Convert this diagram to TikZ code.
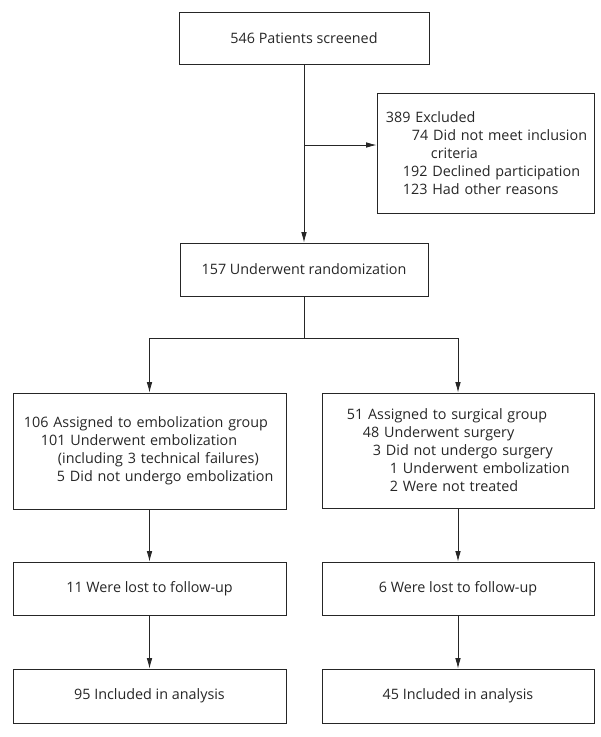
\documentclass[tikz,border=0pt]{standalone}
\usepackage{fontspec}
\setmainfont{Open Sans}
\usetikzlibrary{arrows.meta}

\newcommand{\inrow}[2]{\hspace*{#1}\mbox{#2}}

\begin{document}
\begin{tikzpicture}
   [x=0.025cm,y=-0.025cm,>={Latex[length=2.6mm,width=1.4mm]},
   color=black!85,line width=.6pt,
   every node/.style={font=\fontsize{10.2}{12.8}\selectfont},
   box/.style={draw,minimum width=6.825cm,minimum height=1.325cm,align=center},
   listbox/.style={draw,align=left,inner ysep=0pt}]

   \useasboundingbox (0,0) rectangle (600,737);

   \node[box,minimum width=6.25cm,minimum height=1.3cm] (screened) at (304,38)
      {546 Patients screened};
   \node[listbox,text width=4.975cm,inner xsep=.225cm,minimum height=3cm] (excluded) at (485.5,153)
      {\inrow{0cm}{389 Excluded}\\
       \inrow{.65cm}{74 Did not meet inclusion}\\
       \inrow{1.125cm}{criteria}\\
       \inrow{.425cm}{192 Declined participation}\\
       \inrow{.425cm}{123 Had other reasons}};
   \node[box,minimum width=6.2cm] (random) at (304,269.5)
      {157 Underwent randomization};

   \node[listbox,text width=6.275cm,inner xsep=.275cm,minimum height=2.9cm] (embo) at (149.5,451)
      {\inrow{0cm}{106 Assigned to embolization group}\\
       \inrow{.425cm}{101 Underwent embolization}\\
       \inrow{.85cm}{(including 3 technical failures)}\\
       \inrow{.825cm}{5 Did not undergo embolization}};
   \node[listbox,text width=5.55cm,inner xsep=.625cm,minimum height=2.875cm] (surg) at (458,450.5)
      {\inrow{0cm}{51 Assigned to surgical group}\\
       \inrow{.4cm}{48 Underwent surgery}\\
       \inrow{.65cm}{3 Did not undergo surgery}\\
       \inrow{1.075cm}{1 Underwent embolization}\\
       \inrow{1.075cm}{2 Were not treated}};

   \node[box] (lostembo) at (149.5,588.5) {11 Were lost to follow-up};
   \node[box,minimum width=6.8cm] (lostsurg) at (458,588.5) {6 Were lost to follow-up};
   \node[box,minimum height=1.35cm] (anaembo) at (149.5,696) {95 Included in analysis};
   \node[box,minimum width=6.8cm,minimum height=1.35cm] (anasurg) at (458,696) {45 Included in analysis};

   \coordinate (split) at (304,145);
   \coordinate (fork)  at (304,338);

   \draw[->] (screened.south) -- (random.north);
   \draw[->] (split) -- (split -| excluded.west);

   \draw (random.south) -- (fork);
   \draw[->] (fork) -| (embo.north);
   \draw[->] (fork) -| (surg.north);

   \draw[->] (embo.south) -- (lostembo.north);
   \draw[->] (surg.south) -- (lostsurg.north);
   \draw[->] (lostembo.south) -- (anaembo.north);
   \draw[->] (lostsurg.south) -- (anasurg.north);
\end{tikzpicture}
\end{document}
